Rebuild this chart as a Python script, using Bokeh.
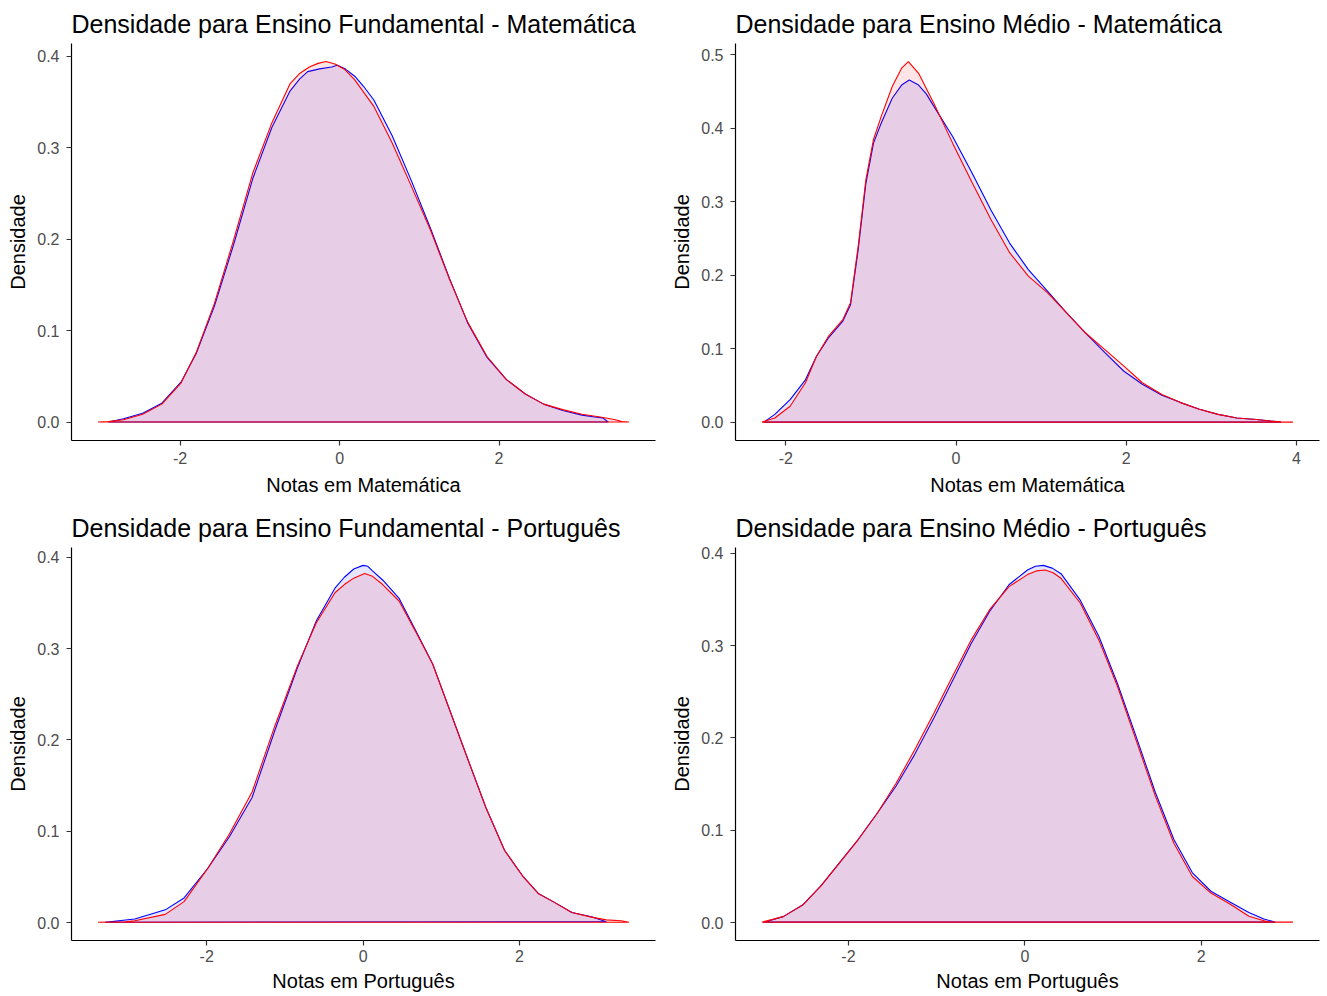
from bokeh.plotting import figure
from bokeh.models import FixedTicker, PrintfTickFormatter, Range1d
from bokeh.layouts import column, row
from bokeh.embed import file_html
from bokeh.resources import INLINE

# ---------------- data ----------------
titles = [
    "Densidade para Ensino Fundamental - Matemática",
    "Densidade para Ensino Médio - Matemática",
    "Densidade para Ensino Fundamental - Português",
    "Densidade para Ensino Médio - Português",
]
x_labels = ["Notas em Matemática", "Notas em Matemática",
            "Notas em Português", "Notas em Português"]
y_label = "Densidade"

x_ticks = [-4, -2, 0, 2, 4]
y_ticks = [0.0, 0.1, 0.2, 0.3, 0.4, 0.5]

# Ensino Fundamental - Matemática
ef_mat_blue_x = [-2.90, -2.71, -2.47, -2.23, -1.99, -1.80, -1.57, -1.33, -1.09, -0.85, -0.62, -0.50,
                 -0.40, -0.25, -0.10, -0.03, 0.07, 0.19, 0.30, 0.43, 0.66, 0.90, 1.14, 1.38, 1.61,
                 1.85, 2.09, 2.33, 2.56, 2.80, 3.04, 3.20, 3.30, 3.37]
ef_mat_blue_y = [0.0005, 0.004, 0.010, 0.021, 0.044, 0.075, 0.127, 0.194, 0.266, 0.322, 0.362, 0.375,
                 0.383, 0.386, 0.388, 0.390, 0.386, 0.378, 0.367, 0.352, 0.313, 0.264, 0.212, 0.157,
                 0.108, 0.071, 0.047, 0.031, 0.020, 0.013, 0.008, 0.006, 0.005, 0.0005]
ef_mat_red_x = [-3.03, -2.90, -2.71, -2.47, -2.23, -1.99, -1.80, -1.57, -1.33, -1.09, -0.85, -0.62,
                -0.50, -0.38, -0.27, -0.17, -0.05, 0.07, 0.19, 0.43, 0.66, 0.90, 1.14, 1.38, 1.61,
                1.85, 2.09, 2.33, 2.56, 2.80, 3.04, 3.27, 3.46, 3.54, 3.63]
ef_mat_red_y = [0.0005, 0.001, 0.003, 0.009, 0.020, 0.043, 0.076, 0.130, 0.199, 0.272, 0.327, 0.370,
                0.381, 0.388, 0.392, 0.394, 0.391, 0.385, 0.374, 0.345, 0.305, 0.258, 0.210, 0.156,
                0.109, 0.072, 0.047, 0.031, 0.020, 0.014, 0.009, 0.006, 0.003, 0.001, 0.0005]

# Ensino Médio - Matemática
em_mat_blue_x = [-2.26, -2.13, -1.95, -1.77, -1.64, -1.50, -1.33, -1.24, -1.15, -1.06, -0.97, -0.88,
                 -0.75, -0.64, -0.55, -0.44, -0.35, -0.26, -0.04, 0.19, 0.41, 0.63, 0.85, 1.08,
                 1.30, 1.52, 1.75, 1.97, 2.19, 2.42, 2.64, 2.86, 3.08, 3.30, 3.53, 3.70, 3.82]
em_mat_blue_y = [0.0005, 0.011, 0.031, 0.058, 0.090, 0.115, 0.138, 0.160, 0.235, 0.325, 0.380, 0.407,
                 0.441, 0.459, 0.466, 0.459, 0.447, 0.430, 0.389, 0.339, 0.289, 0.244, 0.208, 0.178,
                 0.149, 0.122, 0.095, 0.070, 0.052, 0.037, 0.027, 0.018, 0.011, 0.006, 0.004, 0.002,
                 0.0005]
em_mat_red_x = [-2.28, -2.13, -1.95, -1.77, -1.64, -1.50, -1.33, -1.24, -1.15, -1.06, -0.97, -0.88,
                -0.75, -0.64, -0.56, -0.44, -0.26, -0.04, 0.19, 0.41, 0.63, 0.85, 1.08, 1.30,
                1.52, 1.75, 1.97, 2.19, 2.42, 2.64, 2.86, 3.08, 3.30, 3.53, 3.70, 3.82, 3.96]
em_mat_red_y = [0.0005, 0.006, 0.022, 0.054, 0.090, 0.117, 0.140, 0.163, 0.240, 0.330, 0.385, 0.416,
                0.457, 0.482, 0.491, 0.475, 0.434, 0.380, 0.326, 0.276, 0.231, 0.199, 0.176, 0.149,
                0.122, 0.099, 0.077, 0.054, 0.038, 0.027, 0.018, 0.011, 0.006, 0.004, 0.002, 0.001,
                0.0005]

# Ensino Fundamental - Português
ef_por_blue_x = [-3.30, -2.92, -2.53, -2.29, -1.99, -1.71, -1.42, -1.13, -0.84, -0.60, -0.36, -0.24,
                 -0.12, 0.00, 0.06, 0.12, 0.25, 0.46, 0.70, 0.89, 1.08, 1.33, 1.57, 1.81, 2.05,
                 2.24, 2.43, 2.67, 2.92, 3.11]
ef_por_blue_y = [0.0005, 0.004, 0.014, 0.027, 0.059, 0.094, 0.137, 0.210, 0.279, 0.330, 0.366, 0.378,
                 0.387, 0.391, 0.390, 0.385, 0.375, 0.355, 0.315, 0.283, 0.239, 0.181, 0.126, 0.079,
                 0.050, 0.032, 0.023, 0.011, 0.0065, 0.001]
ef_por_red_x = [-3.39, -3.04, -2.92, -2.53, -2.29, -1.99, -1.71, -1.42, -1.13, -0.84, -0.60, -0.36,
                -0.24, -0.12, 0.02, 0.12, 0.25, 0.46, 0.70, 0.89, 1.08, 1.33, 1.57, 1.81, 2.05,
                2.24, 2.43, 2.67, 2.92, 3.11, 3.30, 3.40]
ef_por_red_y = [0.0005, 0.001, 0.002, 0.009, 0.023, 0.059, 0.097, 0.143, 0.215, 0.281, 0.328, 0.361,
                0.370, 0.377, 0.382, 0.379, 0.370, 0.352, 0.314, 0.283, 0.239, 0.181, 0.126, 0.079,
                0.050, 0.032, 0.023, 0.011, 0.006, 0.003, 0.002, 0.0005]

# Ensino Médio - Português
em_por_blue_x = [-2.96, -2.74, -2.52, -2.31, -2.10, -1.89, -1.67, -1.46, -1.25, -1.03, -0.82, -0.61,
                 -0.40, -0.18, 0.03, 0.12, 0.21, 0.31, 0.41, 0.63, 0.84, 1.05, 1.26, 1.48, 1.69,
                 1.90, 2.11, 2.33, 2.54, 2.71, 2.84]
em_por_blue_y = [0.0005, 0.0065, 0.019, 0.040, 0.065, 0.090, 0.119, 0.148, 0.182, 0.222, 0.262, 0.302,
                 0.337, 0.366, 0.382, 0.386, 0.387, 0.384, 0.378, 0.349, 0.310, 0.259, 0.202, 0.141,
                 0.090, 0.054, 0.034, 0.022, 0.011, 0.004, 0.0005]
em_por_red_x = [-2.98, -2.74, -2.52, -2.31, -2.10, -1.89, -1.67, -1.46, -1.25, -1.03, -0.82, -0.61,
                -0.40, -0.18, 0.03, 0.13, 0.23, 0.32, 0.41, 0.63, 0.84, 1.05, 1.26, 1.48, 1.69,
                1.90, 2.11, 2.33, 2.54, 2.75, 2.90, 3.04]
em_por_red_y = [0.0005, 0.0065, 0.019, 0.040, 0.065, 0.090, 0.119, 0.151, 0.187, 0.227, 0.267, 0.306,
                0.339, 0.364, 0.377, 0.381, 0.382, 0.379, 0.373, 0.346, 0.306, 0.256, 0.198, 0.137,
                0.086, 0.050, 0.032, 0.020, 0.007, 0.001, 0.0005, 0.0005]

series = [
    (ef_mat_blue_x, ef_mat_blue_y, ef_mat_red_x, ef_mat_red_y),
    (em_mat_blue_x, em_mat_blue_y, em_mat_red_x, em_mat_red_y),
    (ef_por_blue_x, ef_por_blue_y, ef_por_red_x, ef_por_red_y),
    (em_por_blue_x, em_por_blue_y, em_por_red_x, em_por_red_y),
]

FONT = "Liberation Sans"


def make_panel(i, border_right, border_bottom, frame_h, x_lab_standoff, x_axlab_standoff):
    bx, by, rx, ry = series[i]
    xmin = min(min(bx), min(rx))
    xmax = max(max(bx), max(rx))
    w = xmax - xmin
    ymax = max(max(by), max(ry))
    p = figure(frame_width=584, frame_height=frame_h,
               x_range=Range1d(xmin - 0.05 * w, xmax + 0.05 * w),
               y_range=Range1d(-0.05 * ymax, 1.05 * ymax),
               output_backend="svg", toolbar_location=None,
               min_border_left=71, min_border_right=border_right,
               min_border_top=43, min_border_bottom=border_bottom,
               title=titles[i])
    p.patch(bx, by, fill_color="blue", fill_alpha=0.1, line_color="blue", line_width=1.1)
    p.patch(rx, ry, fill_color="red", fill_alpha=0.1, line_color="red", line_width=1.1)

    p.title.text_font = FONT
    p.title.text_font_size = "25px"
    p.title.text_font_style = "normal"
    p.title.text_color = "#000000"
    p.title.align = "left"
    p.title.standoff = 12

    p.xgrid.grid_line_color = None
    p.ygrid.grid_line_color = None
    p.outline_line_color = None
    p.background_fill_color = "white"
    p.border_fill_color = "white"

    for ax in (p.xaxis[0], p.yaxis[0]):
        ax.axis_line_color = "#000000"
        ax.axis_line_width = 1.2
        ax.major_tick_line_color = "#333333"
        ax.major_tick_line_width = 1.2
        ax.major_tick_out = 5
        ax.major_tick_in = 0
        ax.minor_tick_line_color = None
        ax.major_label_text_font = FONT
        ax.major_label_text_font_size = "16px"
        ax.major_label_text_color = "#4D4D4D"
        ax.axis_label_text_font = FONT
        ax.axis_label_text_font_size = "20px"
        ax.axis_label_text_font_style = "normal"
        ax.axis_label_text_color = "#000000"

    p.yaxis.major_label_standoff = 7
    p.yaxis.axis_label_standoff = 5
    p.xaxis.major_label_standoff = x_lab_standoff
    p.xaxis.axis_label_standoff = x_axlab_standoff

    p.xaxis.ticker = FixedTicker(ticks=x_ticks)
    p.xaxis.formatter = PrintfTickFormatter(format="%d")
    p.yaxis.ticker = FixedTicker(ticks=y_ticks)
    p.yaxis.formatter = PrintfTickFormatter(format="%.1f")
    p.xaxis.axis_label = x_labels[i]
    p.yaxis.axis_label = y_label
    return p


p1 = make_panel(0, 9, 64, 397, 6, 7)
p2 = make_panel(1, 6, 64, 397, 6, 7)
p3 = make_panel(2, 9, 56, 393, 4, 5)
p4 = make_panel(3, 6, 56, 393, 4, 5)

layout = column(row(p1, p2), row(p3, p4))

open("out.html", "w").write(file_html(layout, INLINE))
